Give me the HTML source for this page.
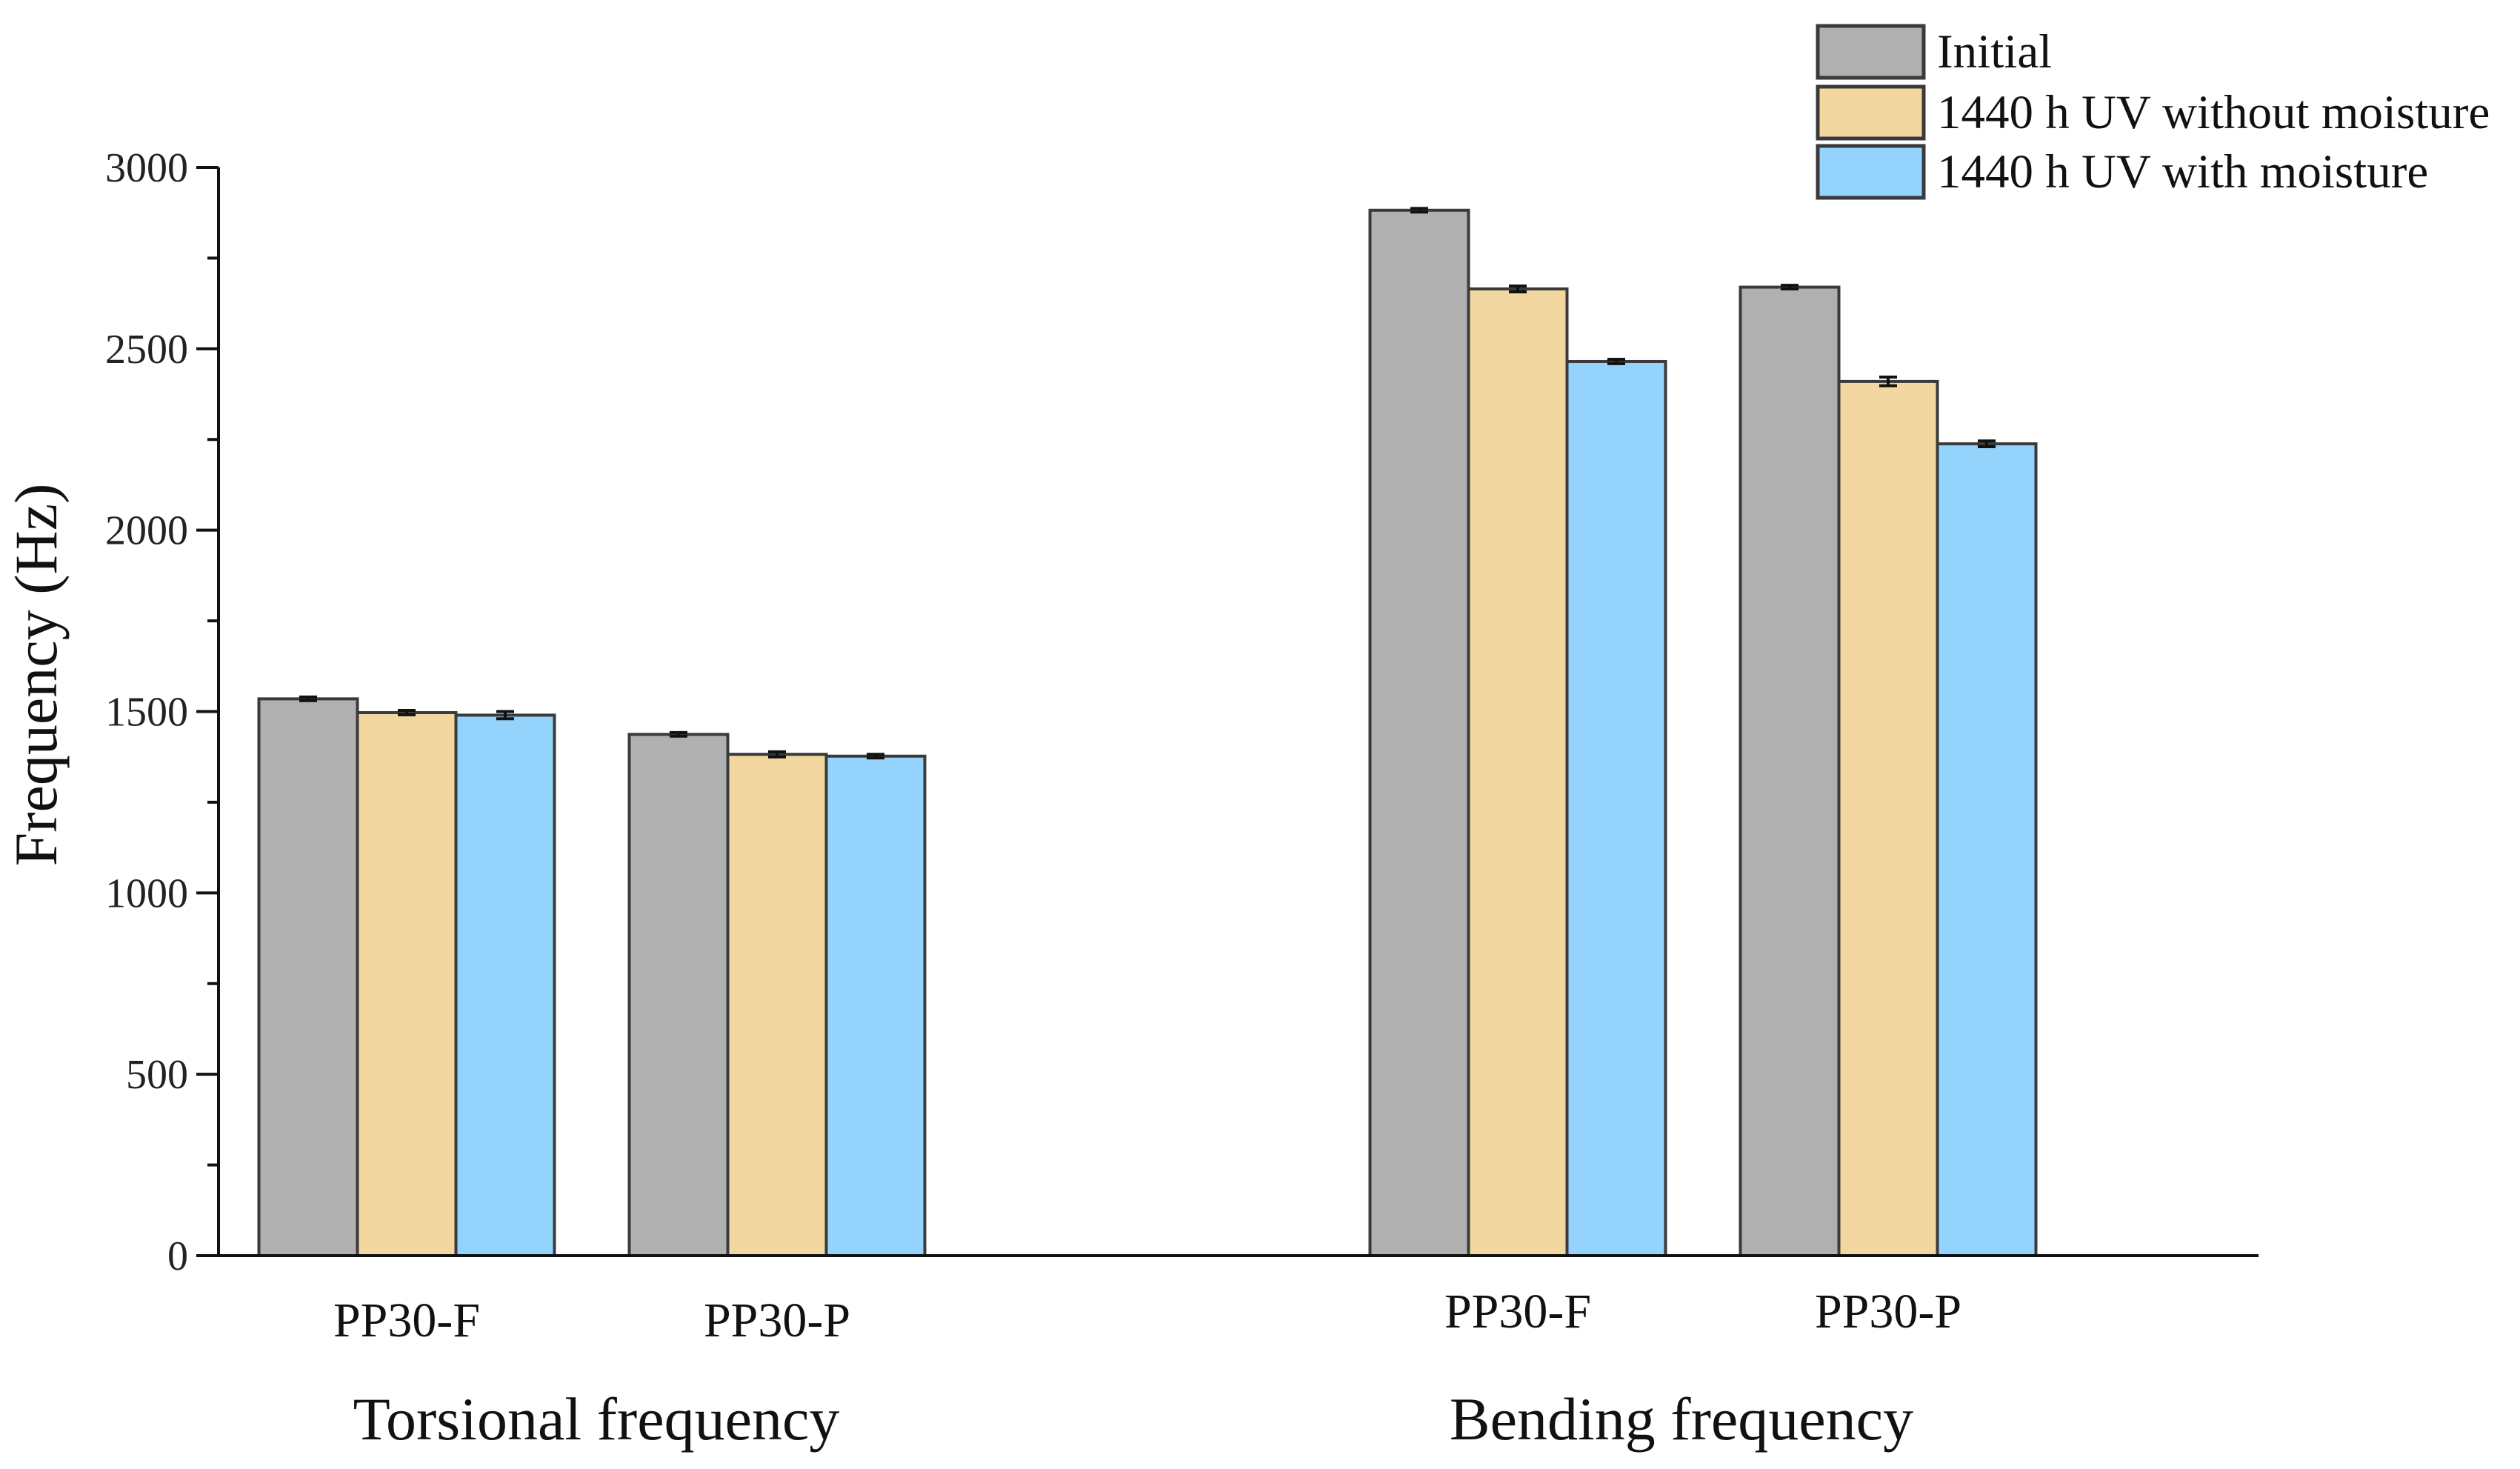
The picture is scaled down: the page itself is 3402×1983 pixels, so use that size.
<!DOCTYPE html>
<html><head><meta charset="utf-8"><style>
html,body{margin:0;padding:0;background:#fff;}
svg{display:block;font-family:"Liberation Serif",serif;}
</style></head><body>
<svg id="chart" width="3402" height="1983" viewBox="0 0 3402 1983" xmlns="http://www.w3.org/2000/svg"></svg>
<script>
const categories = ["PP30-F","PP30-P","PP30-F","PP30-P"];
const catPositions = [1,2,4,5];
const seriesNames = ["Initial","1440 h UV without moisture","1440 h UV with moisture"];
const initialVals = [1535,1437,2882,2670];
const noMoistVals = [1497,1382,2665,2410];
const moistVals = [1490,1377,2465,2238];
const errInitial = [5,5,5,5];
const errNoMoist = [6,7,8,12];
const errMoist = [10,5,6,8];
const yTicks = [0,500,1000,1500,2000,2500,3000];
const groupTitles = ["Torsional frequency","Bending frequency"];

const colors = ["#b0b0b0","#f2d8a0","#94d3fc"];
const svg = document.getElementById('chart');
const NS = "http://www.w3.org/2000/svg";
function yScale(v){ return 1695 - v*(1695-226)/3000; }
function xScale(p){ return 49 + 500*p; }
const barW = 133;
function mk(tag, attrs, parent){ const e=document.createElementNS(NS,tag); for(const k in attrs) e.setAttribute(k,attrs[k]); (parent||svg).appendChild(e); return e; }

const series = [initialVals,noMoistVals,moistVals];
const errs = [errInitial,errNoMoist,errMoist];
series.forEach((vals,si)=>{
  vals.forEach((v,ci)=>{
    const cx = xScale(catPositions[ci]);
    const x = cx + (si-1.5)*barW;
    const r = mk('rect',{x:x,y:yScale(v),width:barW,height:yScale(0)-yScale(v),fill:colors[si],stroke:"#3a3a3a","stroke-width":4});
    
    
    const ex = x+barW/2, e = errs[si][ci];
    const eb = mk('path',{d:`M${ex-12},${yScale(v+e)}H${ex+12}M${ex},${yScale(v+e)}V${yScale(v-e)}M${ex-12},${yScale(v-e)}H${ex+12}`,stroke:"#111","stroke-width":4,fill:"none"});
    
    
  });
});

const ax = mk('path',{d:"M295,226V1695H3049",stroke:"#111","stroke-width":4,fill:"none"});


yTicks.forEach((t,i)=>{
  const y=yScale(t);
  const tk=mk('line',{x1:265,x2:295,y1:y,y2:y,stroke:"#111","stroke-width":4});
  
  
  if(i<yTicks.length-1){
    const ym=yScale(t+250);
    const mt=mk('line',{x1:280,x2:295,y1:ym,y2:ym,stroke:"#111","stroke-width":4});
    
    
  }
  const lb=mk('text',{x:254,y:y+19,"text-anchor":"end","font-size":56,fill:"#222"});
  lb.textContent=t;
  
  
});
categories.forEach((c,i)=>{
  const lb=mk('text',{x:xScale(catPositions[i]),y:i<2?1804:1792,"text-anchor":"middle","font-size":66,fill:"#111"});
  lb.textContent=c;
  
  
});
groupTitles.forEach((g,i)=>{
  const lb=mk('text',{x:i==0?805:2270,y:1943,"text-anchor":"middle","font-size":82,fill:"#111"});
  lb.textContent=g;
  
  
});
const yt=mk('text',{x:0,y:0,transform:"translate(76,911) rotate(-90)","text-anchor":"middle","font-size":82,fill:"#111"});
yt.textContent="Frequency (Hz)";



const legY=[35,117,197];
seriesNames.forEach((n,i)=>{
  const r=mk('rect',{x:2454,y:legY[i],width:143,height:70,fill:colors[i],stroke:"#3a3a3a","stroke-width":5});
  
  
  const t=mk('text',{x:2615,y:legY[i]+56,"font-size":65,fill:"#111"});
  t.textContent=n;
  
  
});
</script>
</body></html>
